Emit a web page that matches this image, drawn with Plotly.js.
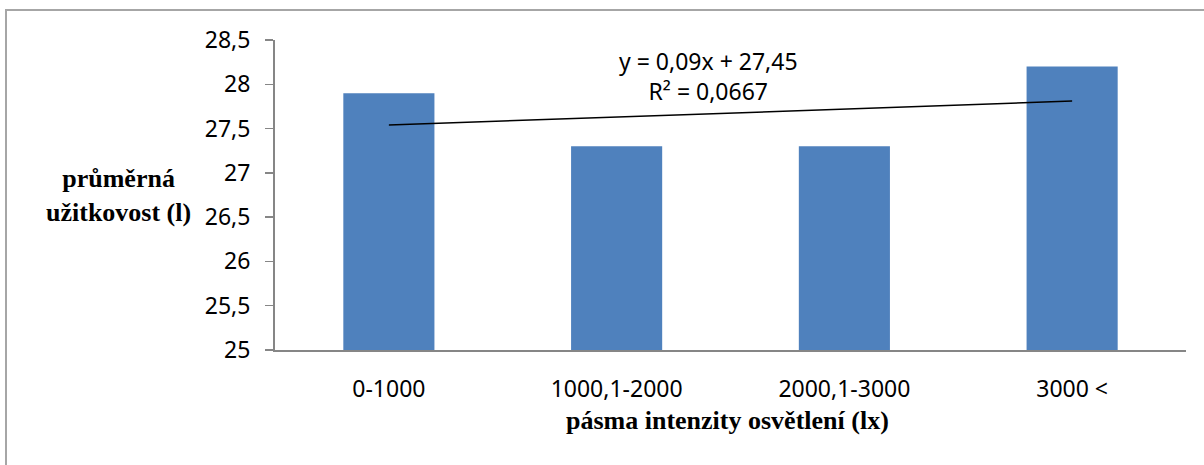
<!DOCTYPE html>
<html>
<head>
<meta charset="utf-8">
<script src="https://cdn.plot.ly/plotly-3.0.1.min.js"></script>
<style>
  html, body { margin: 0; padding: 0; background: #fff; overflow: hidden; }
  #frame { position: absolute; left: 5px; top: 9px; width: 1210px; height: 470px; border: 2px solid #a6a6a6; box-sizing: border-box; pointer-events: none; }
  #chart { width: 1204px; height: 465px; }
</style>
</head>
<body>
<div id="chart"></div>
<div id="frame"></div>
<script>
// Illumination bands (lx) and average milk yield (l)
const categories = ['0-1000', '1000,1-2000', '2000,1-3000', '3000 <'];
const yieldValues = [27.9, 27.3, 27.3, 28.2];

// Linear trend y = 0,09x + 27,45 over the band index x = 1..4
const trendSlope = 0.09;
const trendIntercept = 27.45;
const trendR2 = '0,0667';
const trendValues = categories.map((c, i) => trendIntercept + trendSlope * (i + 1));

const yTickVals = [25, 25.5, 26, 26.5, 27, 27.5, 28, 28.5];
const yTickText = ['25', '25,5', '26', '26,5', '27', '27,5', '28', '28,5'];

const axisColor = '#868686';
const tickFont = { family: 'Noto Sans, Open Sans, sans-serif', size: 23, color: '#000' };
const serifFamily = 'Liberation Serif, Times New Roman, serif';

const traces = [
  {
    type: 'bar',
    x: categories,
    y: yieldValues,
    base: 0,
    marker: { color: '#4F81BD', line: { width: 0 } },
    hoverinfo: 'x+y'
  },
  {
    type: 'scatter',
    mode: 'lines',
    x: categories,
    y: trendValues,
    line: { color: '#000', width: 1.5 },
    hoverinfo: 'skip'
  }
];

const layout = {
  width: 1204,
  height: 465,
  margin: { l: 275, r: 18, t: 40, b: 115 },
  paper_bgcolor: '#fff',
  plot_bgcolor: '#fff',
  separators: ', ',
  showlegend: false,
  bargap: 0.6,
  xaxis: {
    type: 'category',
    showline: true,
    linecolor: axisColor,
    linewidth: 2,
    ticks: '',
    showgrid: false,
    zeroline: false,
    tickfont: tickFont,
    ticklabelstandoff: 17,
    fixedrange: true
  },
  yaxis: {
    range: [25, 28.5],
    tickvals: yTickVals,
    ticktext: yTickText,
    showline: true,
    linecolor: axisColor,
    linewidth: 2,
    ticks: 'outside',
    ticklen: 8,
    tickwidth: 1.5,
    tickcolor: axisColor,
    showgrid: false,
    zeroline: false,
    tickfont: tickFont,
    ticklabelstandoff: 10,
    fixedrange: true
  },
  annotations: [
    {
      text: 'y = 0,09x + 27,45<br>R² = ' + trendR2,
      xref: 'paper', yref: 'paper',
      x: 0.476, y: 0.885,
      xanchor: 'center', yanchor: 'middle',
      showarrow: false,
      font: { family: tickFont.family, size: 23, color: '#000' },
      align: 'center'
    },
    {
      text: '<b>průměrná<br>užitkovost (l)</b>',
      xref: 'paper', yref: 'paper',
      x: -0.172, y: 0.5,
      xanchor: 'center', yanchor: 'middle',
      showarrow: false,
      font: { family: serifFamily, size: 26, color: '#000' },
      align: 'center'
    },
    {
      text: '<b>pásma intenzity osvětlení (lx)</b>',
      xref: 'paper', yref: 'paper',
      x: 0.497, y: -0.228,
      xanchor: 'center', yanchor: 'middle',
      showarrow: false,
      font: { family: serifFamily, size: 26, color: '#000' }
    }
  ]
};

Plotly.newPlot('chart', traces, layout, { displayModeBar: false, staticPlot: true });
</script>
</body>
</html>
